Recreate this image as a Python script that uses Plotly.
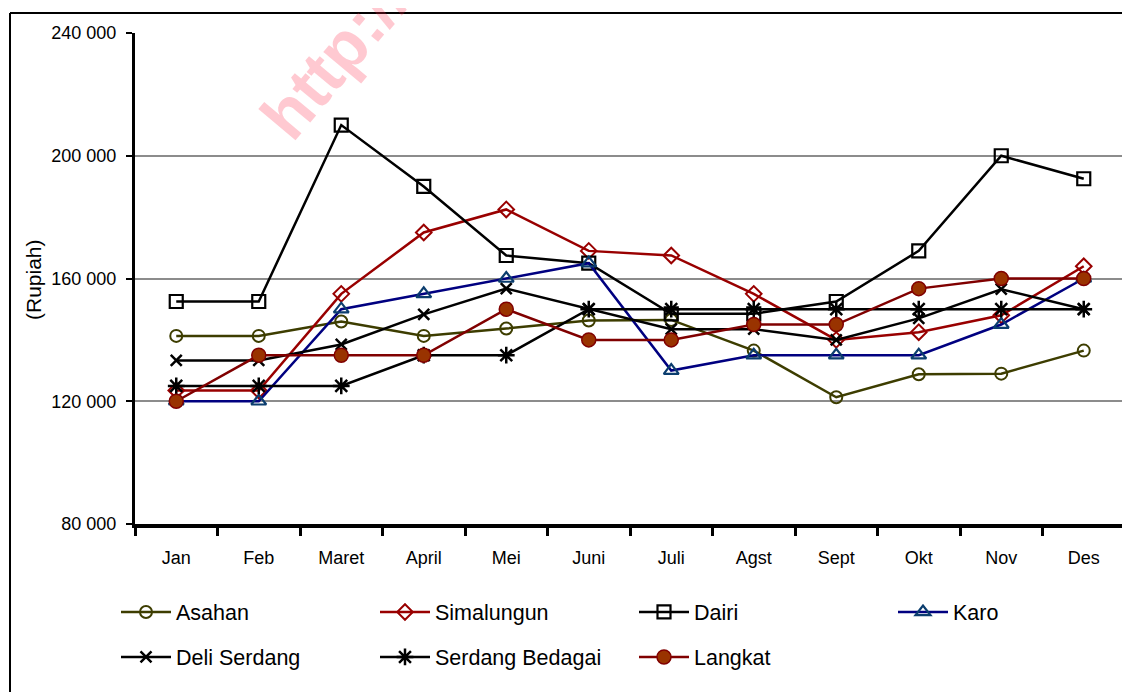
import plotly.graph_objects as go

months = ["Jan", "Feb", "Maret", "April", "Mei", "Juni", "Juli", "Agst", "Sept", "Okt", "Nov", "Des"]
asahan = [141300, 141300, 146000, 141300, 143700, 146300, 146500, 136500, 121300, 128800, 129000, 136500]
simalungun = [123500, 123500, 155000, 175000, 182500, 169000, 167500, 155000, 140000, 142500, 148000, 164000]
dairi = [152500, 152500, 210000, 190000, 167500, 165000, 148500, 148500, 152500, 169000, 200000, 192500]
karo = [120000, 120000, 150000, 155000, 160000, 165000, 130000, 135000, 135000, 135000, 145000, 160000]
deli_serdang = [133300, 133300, 138500, 148300, 156700, 150000, 143500, 143500, 140000, 147000, 156500, 150000]
serdang_bedagai = [125000, 125000, 125000, 135000, 135000, 150000, 150000, 150000, 150000, 150000, 150000, 150000]
langkat = [120000, 135000, 135000, 135000, 150000, 140000, 140000, 145000, 145000, 156700, 160000, 160000]

ytick_vals = [80000, 120000, 160000, 200000, 240000]
ytick_text = ["80 000", "120 000", "160 000", "200 000", "240 000"]

# the page places the figure 8px in from the top-left corner
OFF = 8
W, H = 1130 - OFF, 692 - OFF
ML, MR, MT, MB = 135 - OFF, 5, 33 - OFF, 168
PW = W - ML - MR
PH = H - MT - MB

def px_x(x):
    return (x - OFF - ML) / PW

def px_y(y):
    return (H - MB - (y - OFF)) / PH

series = [
    ("Asahan", asahan, "#3D3D00", dict(symbol="circle-open", size=12, color="#3D3D00", line=dict(width=2, color="#3D3D00")), "legend"),
    ("Simalungun", simalungun, "#990000", dict(symbol="diamond-open", size=12, color="#990000", line=dict(width=2, color="#990000")), "legend"),
    ("Dairi", dairi, "#000000", dict(symbol="square-open", size=13, color="#000000", line=dict(width=2.2, color="#000000")), "legend"),
    ("Karo", karo, "#000080", dict(symbol="triangle-up-open", size=13, color="#0B3D6E", line=dict(width=2.2, color="#0B3D6E")), "legend"),
    ("Deli Serdang", deli_serdang, "#000000", dict(symbol="x-thin-open", size=11, color="#000000", line=dict(width=2.5, color="#000000")), "legend2"),
    ("Serdang Bedagai", serdang_bedagai, "#000000", dict(symbol="asterisk-open", size=14, color="#000000", line=dict(width=2.5, color="#000000")), "legend2"),
    ("Langkat", langkat, "#800000", dict(symbol="circle", size=14, color="#993300", line=dict(width=1.5, color="#800000")), "legend2"),
]

fig = go.Figure()
for name, vals, lc, mk, lg in series:
    fig.add_trace(go.Scatter(
        x=months, y=vals, name=name, mode="lines+markers",
        line=dict(color=lc, width=2.5), marker=mk, legend=lg,
    ))

tick_font = dict(family="Liberation Sans, Arial", size=18, color="#000000")
leg_font = dict(family="Liberation Sans, Arial", size=21.5, color="#000000")

leg_common = dict(orientation="h", xanchor="left", yanchor="middle", itemwidth=50,
                  entrywidth=194, entrywidthmode="pixels", font=leg_font,
                  bgcolor="rgba(0,0,0,0)", traceorder="normal")

fig.update_layout(
    width=W, height=H,
    margin=dict(l=ML, r=MR, t=MT, b=MB, autoexpand=False),
    paper_bgcolor="white", plot_bgcolor="white",
    showlegend=True,
    legend=dict(x=px_x(116), y=px_y(612), **leg_common),
    legend2=dict(x=px_x(116), y=px_y(657), **leg_common),
    xaxis=dict(
        type="category", categoryorder="array", categoryarray=months,
        range=[-0.5, len(months) - 0.5],
        tickson="boundaries", ticks="outside", ticklen=8, tickwidth=3, tickcolor="#000000",
        showline=True, linecolor="#000000", linewidth=4, showgrid=False, zeroline=False,
        tickfont=tick_font, ticklabelstandoff=14, automargin=False,
    ),
    yaxis=dict(
        range=[80000, 240000], tickvals=ytick_vals, ticktext=ytick_text,
        ticks="outside", ticklen=6, tickwidth=2, tickcolor="#000000",
        showline=True, linecolor="#000000", linewidth=3,
        showgrid=True, gridcolor="#8C8C8C", gridwidth=2, zeroline=False,
        tickfont=tick_font, ticklabelstandoff=6, automargin=False,
    ),
    shapes=[
        dict(type="line", xref="paper", yref="paper", x0=1, x1=1, y0=0, y1=1,
             line=dict(color="#8C8C8C", width=3)),
        dict(type="line", xref="paper", yref="paper", x0=px_x(10), x1=px_x(1140), y0=px_y(13), y1=px_y(13),
             line=dict(color="#000000", width=2)),
        dict(type="line", xref="paper", yref="paper", x0=px_x(10), x1=px_x(10), y0=px_y(13), y1=px_y(700),
             line=dict(color="#000000", width=2)),
    ],
    annotations=[
        dict(text="(Rupiah)", xref="paper", yref="paper", x=px_x(33), y=px_y(280),
             xanchor="center", yanchor="middle", showarrow=False, textangle=-90,
             font=dict(family="Liberation Sans, Arial", size=21, color="#000000")),
        dict(text="<b>http://</b>", xref="paper", yref="paper", x=px_x(334), y=px_y(57),
             xanchor="center", yanchor="middle", showarrow=False, textangle=-50,
             font=dict(family="Liberation Sans, Arial", size=67, color="rgba(255,40,70,0.25)")),
    ],
)

fig.write_html("out.html")
